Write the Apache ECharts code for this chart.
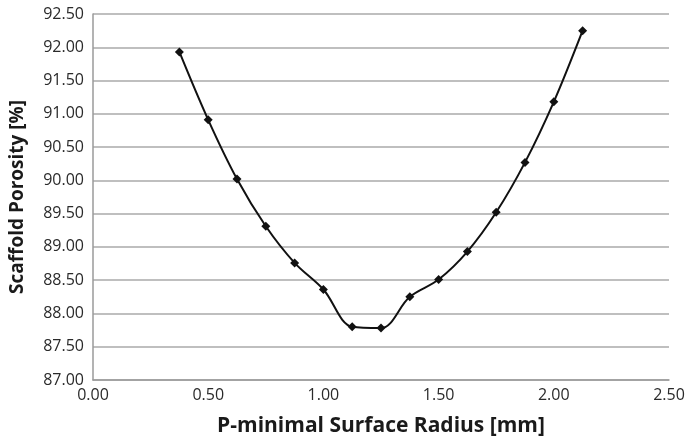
<!DOCTYPE html>
<html>
<head>
<meta charset="utf-8">
<script src="https://cdn.jsdelivr.net/npm/echarts@6/dist/echarts.min.js"></script>
<style>
  html, body { margin: 0; padding: 0; background: #fff; }
  #chart { width: 689px; height: 443px; }
</style>
</head>
<body>
<div id="chart"></div>
<script>
// P-minimal surface radius [mm]
const radius = [0.375, 0.5, 0.625, 0.75, 0.875, 1.0, 1.125, 1.25, 1.375, 1.5, 1.625, 1.75, 1.875, 2.0, 2.125];
// Scaffold porosity [%]
const porosity = [91.93, 90.91, 90.02, 89.31, 88.76, 88.36, 87.80, 87.78, 88.25, 88.51, 88.93, 89.52, 90.27, 91.18, 92.25];

const font = 'Open Sans, Lato, sans-serif';
const chart = echarts.init(document.getElementById('chart'));
chart.setOption({
  animation: false,
  backgroundColor: '#fff',
  grid: { left: 93, right: 20, top: 14, bottom: 63 },
  xAxis: {
    type: 'value', min: 0, max: 2.5, interval: 0.5,
    name: 'P-minimal Surface Radius [mm]',
    nameLocation: 'middle', nameGap: 36,
    nameTextStyle: { fontFamily: font, fontSize: 21, fontWeight: 'bold', color: '#1a1a1a' },
    axisLine: { show: true, lineStyle: { color: '#9a9a9a', width: 1.5 } },
    axisTick: { show: false },
    axisLabel: { fontFamily: font, fontSize: 16, color: '#2a2a2a', margin: 7,
                 formatter: v => v.toFixed(2) },
    splitLine: { show: false }
  },
  yAxis: {
    type: 'value', min: 87, max: 92.5, interval: 0.5,
    name: 'Scaffold Porosity [%]',
    nameLocation: 'middle', nameGap: 66,
    nameTextStyle: { fontFamily: font, fontSize: 19, fontWeight: 'bold', color: '#1a1a1a' },
    axisLine: { show: true, lineStyle: { color: '#9a9a9a', width: 1.5 } },
    axisTick: { show: false },
    axisLabel: { fontFamily: font, fontSize: 16, color: '#2a2a2a', margin: 9,
                 formatter: v => v.toFixed(2) },
    splitLine: { show: true, lineStyle: { color: '#aaaaaa', width: 1.5 } }
  },
  series: [{
    type: 'line',
    data: radius.map((r, i) => [r, porosity[i]]),
    smooth: 0.35,
    symbol: 'diamond', symbolSize: 9,
    itemStyle: { color: '#111' },
    lineStyle: { color: '#111', width: 2 }
  }]
});
</script>
</body>
</html>
